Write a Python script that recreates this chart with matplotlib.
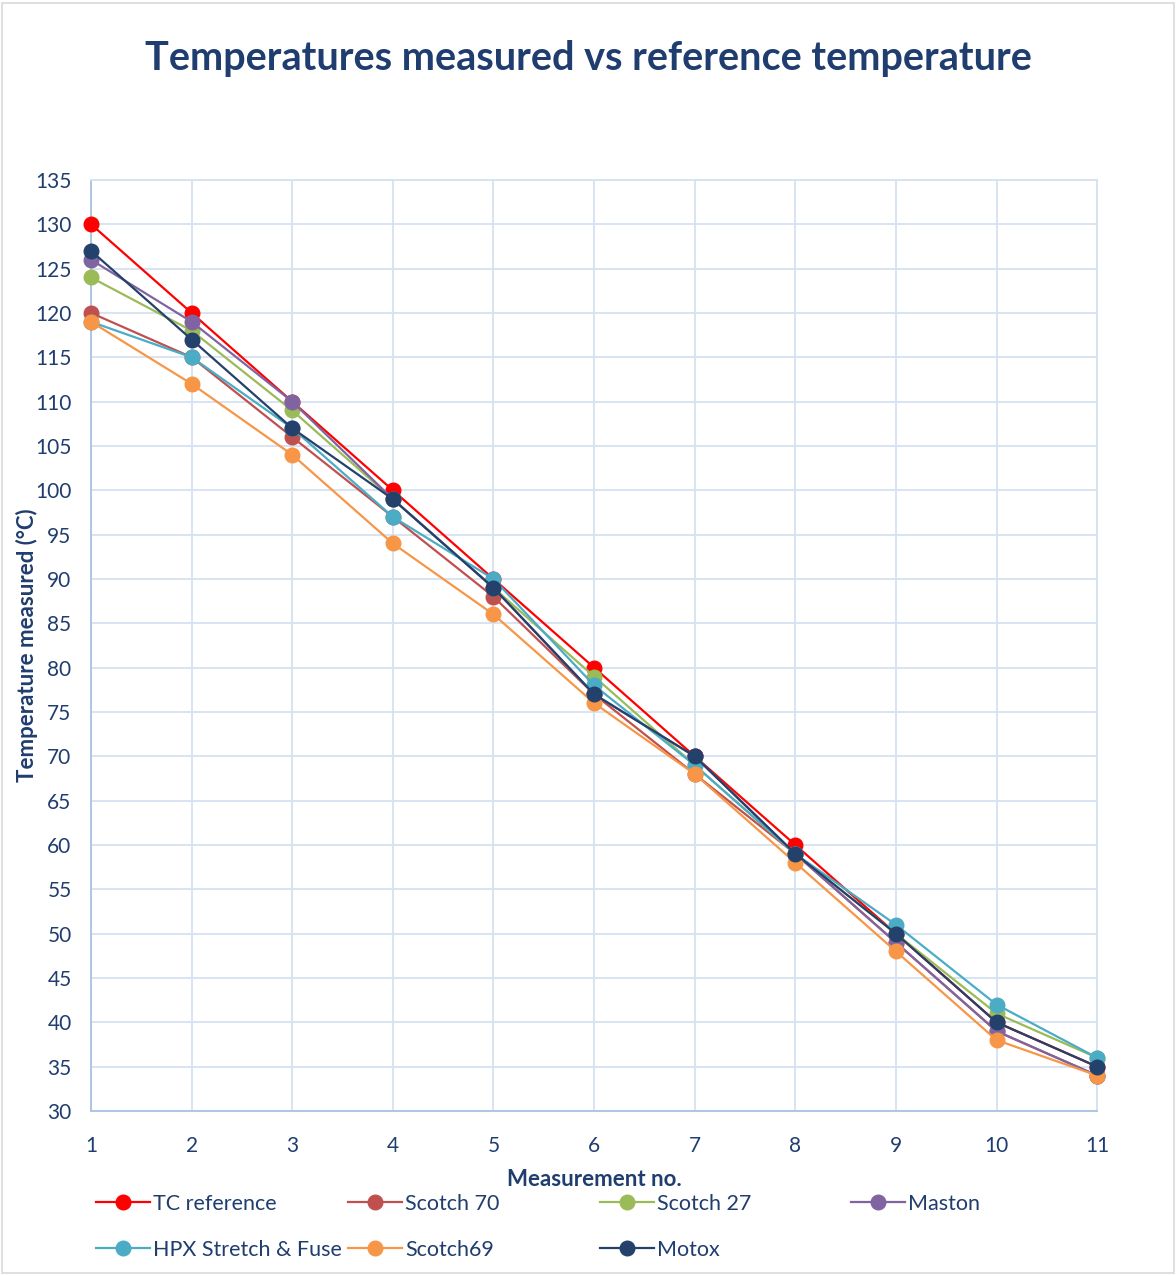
import matplotlib
matplotlib.use("Agg")
import matplotlib.pyplot as plt
from matplotlib.patches import Rectangle

measurements = [1, 2, 3, 4, 5, 6, 7, 8, 9, 10, 11]
tc_reference = [130, 120, 110, 100, 90, 80, 70, 60, 50, 40, 35]
scotch70 = [120, 115, 106, 97, 88, 77, 68, 59, 49, 39, 34]
scotch27 = [124, 118, 109, 99, 89, 79, 69, 59, 50, 41, 36]
maston = [126, 119, 110, 99, 89, 77, 70, 59, 49, 39, 34]
hpx = [119, 115, 107, 97, 90, 78, 69, 59, 51, 42, 36]
scotch69 = [119, 112, 104, 94, 86, 76, 68, 58, 48, 38, 34]
motox = [127, 117, 107, 99, 89, 77, 70, 59, 50, 40, 35]

series = [
    ("TC reference", tc_reference, "#FF0000"),
    ("Scotch 70", scotch70, "#C0504D"),
    ("Scotch 27", scotch27, "#9BBB59"),
    ("Maston", maston, "#8064A2"),
    ("HPX Stretch & Fuse", hpx, "#4BACC6"),
    ("Scotch69", scotch69, "#F79646"),
    ("Motox", motox, "#24416B"),
]

txt = "#1F3D6E"
plt.rcParams['font.family'] = ['Lato', 'DejaVu Sans']

fig = plt.figure(figsize=(11.76, 12.76), dpi=100)
ax = fig.add_axes([0.0774, 0.1293, 0.8556, 0.7297])

lines = []
for name, vals, col in series:
    ln, = ax.plot(measurements, vals, '-o', color=col, label=name, lw=1.6, ms=10.5,
                  clip_on=False, zorder=3)
    lines.append(ln)

ax.set_xlim(1, 11)
ax.set_ylim(30, 135)
ax.set_xticks(measurements)
ax.set_yticks(range(30, 136, 5))
ax.grid(True, color="#D6E2F2", lw=1.3)
ax.set_axisbelow(True)
for s in ax.spines.values():
    s.set_color("#D6E2F2")
    s.set_linewidth(1.3)
    s.set_zorder(1)
ax.spines['left'].set_color("#A9C1E4")
ax.spines['bottom'].set_color("#A9C1E4")
ax.tick_params(colors=txt, labelsize=15, length=0)
ax.tick_params(axis='y', pad=14)
ax.tick_params(axis='x', pad=18)

ax.set_xlabel("Measurement no.", fontsize=16, fontweight='bold', color=txt, va='center')
ax.set_ylabel("Temperature measured (°C)", fontsize=16, fontweight='bold', color=txt, va='center')
ax.xaxis.set_label_coords(0.5, -0.074)
ax.yaxis.set_label_coords(-0.064, 0.5)
fig.text(0.5, 0.954, "Temperatures measured vs reference temperature", ha='center', va='center',
         fontsize=28.5, fontweight='bold', color=txt)

# legend: four equal-width columns, row-major order like Excel
col_x = [0.0816, 0.296, 0.510, 0.724]
for c, x in enumerate(col_x):
    idx = [i for i in (c, c + 4) if i < len(lines)]
    leg = fig.legend([lines[i] for i in idx], [series[i][0] for i in idx],
                     loc='upper left', bbox_to_anchor=(x, 0.0645), frameon=False,
                     fontsize=15.5, handlelength=2.5, handletextpad=0.15,
                     labelspacing=1.2, borderpad=0, borderaxespad=0)
    for t in leg.get_texts():
        t.set_color(txt)

fig.patches.append(Rectangle((0.002, 0.002), 0.996, 0.996, transform=fig.transFigure,
                             fill=False, edgecolor="#D9D9D9", lw=1.2))

fig.savefig("out.png", dpi=100, facecolor="white")
